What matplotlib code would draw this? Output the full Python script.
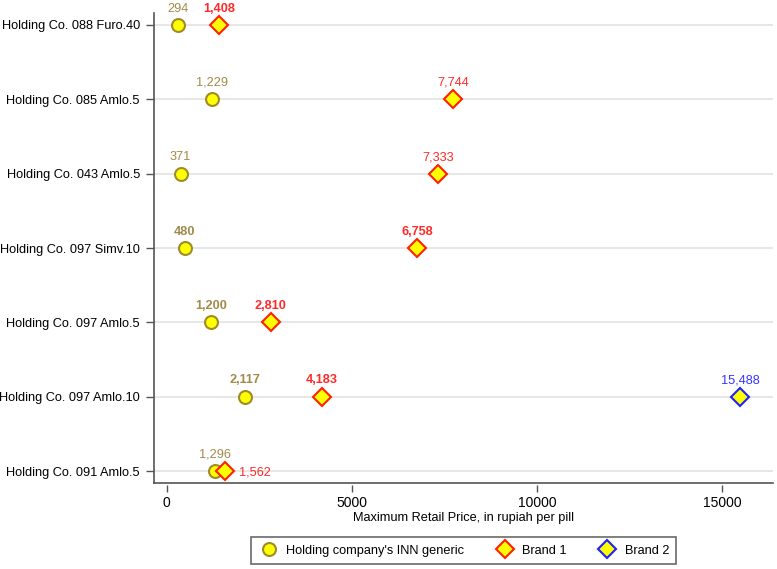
import numpy as np
import matplotlib.pyplot as plt
from matplotlib.lines import Line2D

plt.rcParams['font.family'] = ['Liberation Sans', 'DejaVu Sans']

# filas de abajo hacia arriba
productos = ['Holding Co. 091 Amlo.5', 'Holding Co. 097 Amlo.10', 'Holding Co. 097 Amlo.5',
             'Holding Co. 097 Simv.10', 'Holding Co. 043 Amlo.5', 'Holding Co. 085 Amlo.5',
             'Holding Co. 088 Furo.40']
generico = [1296, 2117, 1200, 480, 371, 1229, 294]
marca1 = [1562, 4183, 2810, 6758, 7333, 7744, 1408]
marca2 = [np.nan, 15488, np.nan, np.nan, np.nan, np.nan, np.nan]
# etiquetas en negrita (como en la imagen)
negrita_gen = [False, True, True, True, False, False, False]
negrita_m1 = [False, True, True, True, False, False, True]

col_gen = '#a08a4a'
col_m1 = '#ff2a2a'
col_m2 = '#3535ff'
fs = 9.2

fig = plt.figure(figsize=(7.77, 5.69), dpi=100)
ax = fig.add_axes([0.198, 0.151, 0.797, 0.826])

y = np.arange(len(productos))

for yy in y:
    ax.axhline(yy, color='#e3e3e3', lw=1.2, zorder=0)

ax.plot(generico, y, 'o', ms=9.3, mfc='#ffff00', mec='#a08a2a', mew=1.5, ls='none', zorder=3)
ax.plot(marca1, y, 'D', ms=9.3, mfc='#ffff00', mec='#ff2000', mew=1.5, ls='none', zorder=4)
ax.plot(marca2, y, 'D', ms=9.3, mfc='#ffff00', mec='#2020ff', mew=1.5, ls='none', zorder=4)

for i in range(len(y)):
    ax.annotate(f'{generico[i]:,}', (generico[i], y[i]), xytext=(0, 7.5), textcoords='offset points',
                ha='center', va='bottom', fontsize=fs, color=col_gen,
                fontweight='bold' if negrita_gen[i] else 'normal')
    if i == 0:
        # 1,562 a la derecha porque choca con el generico
        ax.annotate(f'{marca1[i]:,}', (marca1[i], y[i]), xytext=(10, -1), textcoords='offset points',
                    ha='left', va='center', fontsize=fs, color=col_m1)
    else:
        ax.annotate(f'{marca1[i]:,}', (marca1[i], y[i]), xytext=(0, 7.5), textcoords='offset points',
                    ha='center', va='bottom', fontsize=fs, color=col_m1,
                    fontweight='bold' if negrita_m1[i] else 'normal')
    if not np.isnan(marca2[i]):
        ax.annotate(f'{int(marca2[i]):,}', (marca2[i], y[i]), xytext=(0, 7.5), textcoords='offset points',
                    ha='center', va='bottom', fontsize=fs, color=col_m2)

ax.set_yticks(y)
ax.set_yticklabels(productos, fontsize=fs)
ax.set_xticks([0, 5000, 10000, 15000])
ax.set_xticklabels(['0', '5000', '10000', '15000'], fontsize=fs)
ax.set_xlim(-351, 16380)
ax.set_ylim(-0.16, 6.16)
ax.set_xlabel('Maximum Retail Price, in rupiah per pill', fontsize=fs, labelpad=1)

# estilo Stata: marcas del eje x separadas de la linea del eje
for s in ['top', 'right']:
    ax.spines[s].set_visible(False)
ax.spines['left'].set_color('#555555')
ax.spines['left'].set_linewidth(1.2)
ax.spines['bottom'].set_position(('outward', 1.5))
ax.spines['bottom'].set_color('none')
ax.plot([0, 1], [0, 0], transform=ax.transAxes, color='#555555', lw=1.2, clip_on=False, zorder=5)
ax.tick_params(axis='y', color='#555555', length=5.5, width=1, pad=4.5)
ax.tick_params(axis='x', color='#555555', length=5, width=1, pad=3)

manejadores = [
    Line2D([], [], marker='o', ls='none', ms=9.3, mfc='#ffff00', mec='#a08a2a', mew=1.5),
    Line2D([], [], marker='D', ls='none', ms=9.3, mfc='#ffff00', mec='#ff2000', mew=1.5),
    Line2D([], [], marker='D', ls='none', ms=9.3, mfc='#ffff00', mec='#2020ff', mew=1.5),
]
leg = fig.legend(manejadores, ["Holding company's INN generic", 'Brand 1', 'Brand 2'],
                 loc='center', bbox_to_anchor=(0.597, 0.0325), ncol=3, fontsize=fs,
                 frameon=True, fancybox=False, edgecolor='#444444', handlelength=1.6,
                 handletextpad=0.55, columnspacing=2.4, borderpad=0.55)
leg.get_frame().set_linewidth(1.2)

fig.savefig('out.png', dpi=100)
